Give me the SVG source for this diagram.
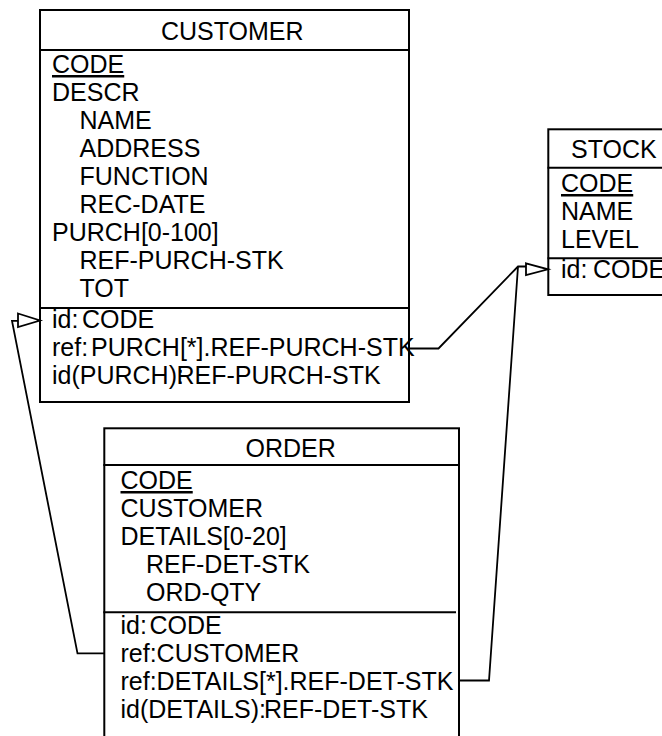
<svg xmlns="http://www.w3.org/2000/svg" width="662" height="736" viewBox="0 0 662 736">
<style>
  .box { fill: #fff; stroke: #000; stroke-width: 2; }
  .div { stroke: #000; stroke-width: 2; }
  text { font-family: "Liberation Sans", Arial, sans-serif; font-size: 25px; fill: #000; }
  .u { text-decoration: underline; }
  .conn { fill: none; stroke: #000; stroke-width: 1.8; }
  .tri { fill: #fff; stroke: #000; stroke-width: 1.8; }
</style>
<rect width="662" height="736" fill="#fff"/>

<g id="customer">
  <rect class="box" x="40" y="10" width="369" height="392"/>
  <line class="div" x1="39" y1="50" x2="409" y2="50"/>
  <line class="div" x1="39" y1="308" x2="409" y2="308"/>
  <text x="161" y="40">CUSTOMER</text>
  <text class="u" x="52" y="73">CODE</text>
  <text x="52" y="101">DESCR</text>
  <text x="79.5" y="129">NAME</text>
  <text x="79.5" y="157">ADDRESS</text>
  <text x="79.5" y="185">FUNCTION</text>
  <text x="79.5" y="213">REC-DATE</text>
  <text x="52" y="241">PURCH[0-100]</text>
  <text x="79.5" y="269">REF-PURCH-STK</text>
  <text x="79.5" y="297">TOT</text>
  <text x="52" y="328">id:</text><text x="82" y="328">CODE</text>
  <text x="52" y="356">ref:</text><text x="91" y="356">PURCH[*].REF-PURCH-STK</text>
  <text x="52" y="384">id(PURCH):</text><text x="176.5" y="384">REF-PURCH-STK</text>
</g>

<g id="stock">
  <rect class="box" x="548.3" y="129.3" width="140" height="165.7"/>
  <line class="div" x1="547.5" y1="167.7" x2="690" y2="167.7"/>
  <line class="div" x1="547.5" y1="258.3" x2="690" y2="258.3"/>
  <text x="571" y="158">STOCK</text>
  <text class="u" x="561" y="192">CODE</text>
  <text x="561" y="220">NAME</text>
  <text x="561" y="248">LEVEL</text>
  <text x="561" y="278">id:</text><text x="593" y="278">CODE</text>
</g>

<g id="order">
  <rect class="box" x="104.3" y="428.3" width="354.7" height="330"/>
  <line class="div" x1="103.3" y1="465" x2="459" y2="465"/>
  <line class="div" x1="103.3" y1="612.3" x2="456" y2="612.3"/>
  <text x="245.5" y="457">ORDER</text>
  <text class="u" x="120.5" y="489">CODE</text>
  <text x="120.5" y="517">CUSTOMER</text>
  <text x="120.5" y="545">DETAILS[0-20]</text>
  <text x="146" y="573">REF-DET-STK</text>
  <text x="146" y="601">ORD-QTY</text>
  <text x="120.5" y="634">id:</text><text x="149.5" y="634">CODE</text>
  <text x="120.5" y="662">ref:CUSTOMER</text>
  <text x="120.5" y="690">ref:DETAILS[*].REF-DET-STK</text>
  <text x="120.5" y="718">id(DETAILS):</text><text x="264" y="718">REF-DET-STK</text>
</g>

<g id="connectors">
  <polyline class="conn" points="409,348.5 438.5,348.5 518,266.5 526,266.5"/>
  <polyline class="conn" points="459,680.5 489,680.5 518,266.5"/>
  <polygon class="tri" points="526,263.3 548,269.3 526,275"/>
  <polyline class="conn" points="104.3,653.3 77.5,653.3 12,320.8 18,320.8"/>
  <polygon class="tri" points="18,313.5 40,320.5 18,327"/>
</g>
</svg>
